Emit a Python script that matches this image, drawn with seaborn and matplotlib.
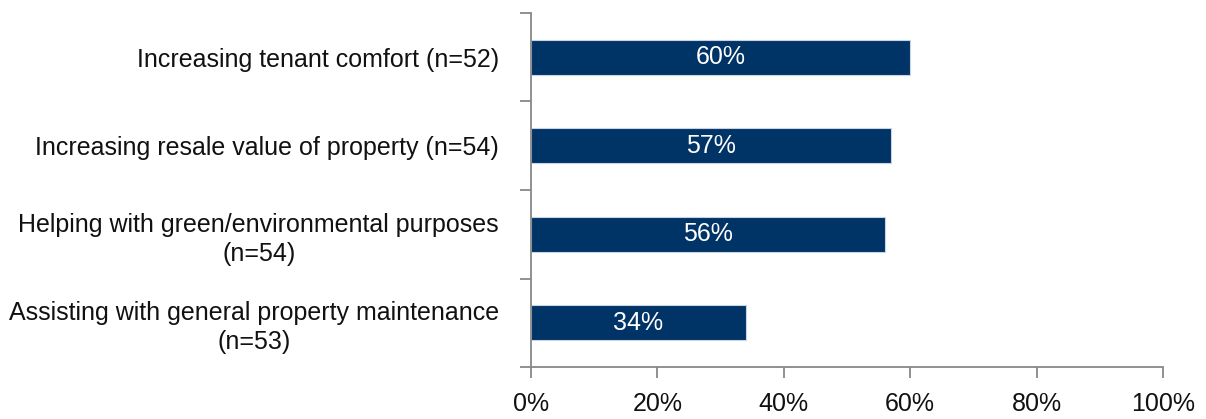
import matplotlib
matplotlib.use("Agg")
import matplotlib.pyplot as plt
import seaborn as sns
import pandas as pd
from matplotlib.ticker import FixedLocator

categories = [
    "Increasing tenant comfort (n=52)",
    "Increasing resale value of property (n=54)",
    "Helping with green/environmental purposes\n(n=54)",
    "Assisting with general property maintenance\n(n=53)",
]
values = [60, 57, 56, 34]
x_ticks = [0, 20, 40, 60, 80, 100]

sns.set_theme(style="white")
plt.rcParams["font.family"] = ["Liberation Sans", "DejaVu Sans"]

df = pd.DataFrame({"category": categories, "value": values})

fig = plt.figure(figsize=(12.06, 4.19), dpi=100)
ax = fig.add_axes([531 / 1206, 52 / 419, 632 / 1206, 354 / 419])

bar_color = "#003366"
sns.barplot(data=df, y="category", x="value", orient="h", color=bar_color,
            width=0.4, saturation=1, edgecolor="#c8d4e4", linewidth=0.8, ax=ax)

for patch, v in zip(ax.patches, values):
    ax.text(patch.get_x() + patch.get_width() / 2,
            patch.get_y() + patch.get_height() / 2,
            f"{v}%", ha="center", va="center", color="white", fontsize=18)

ax.set_xlim(0, 100)
ax.set_ylim(len(categories) - 0.5, -0.5)
ax.set_xticks(x_ticks)
ax.set_xticklabels([f"{t}%" for t in x_ticks], fontsize=18)
ax.set_xlabel("")
ax.set_ylabel("")

# category labels centred between boundary ticks
ax.tick_params(axis="y", which="major", length=0, pad=23, labelsize=18)
for lbl in ax.get_yticklabels():
    lbl.set_multialignment("center")
    lbl.set_linespacing(1.25)
ax.yaxis.set_minor_locator(FixedLocator([i - 0.5 for i in range(len(categories) + 1)]))
ax.tick_params(axis="y", which="minor", length=8, width=1.3, color="#888888", left=True)
ax.tick_params(axis="x", which="major", length=8, width=1.3, color="#888888",
               bottom=True, pad=10, labelsize=18)

for side in ["top", "right"]:
    ax.spines[side].set_visible(False)
for side in ["left", "bottom"]:
    ax.spines[side].set_color("#888888")
    ax.spines[side].set_linewidth(1.3)

for t in ax.get_xticklabels() + ax.get_yticklabels():
    t.set_color("#111111")

fig.savefig("out.png", dpi=100)
